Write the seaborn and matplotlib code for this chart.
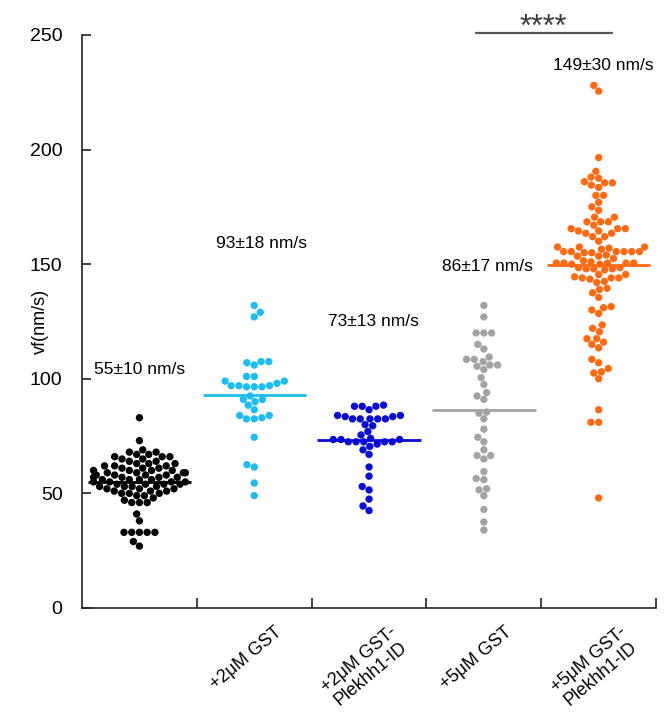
import numpy as np
import pandas as pd
import matplotlib
matplotlib.use("Agg")
import matplotlib.pyplot as plt
import matplotlib.transforms as mtransforms
import seaborn as sns

sns.set_theme(style="ticks")
plt.rcParams["font.family"] = ["Liberation Sans", "DejaVu Sans"]
plt.rcParams.update({"text.color": "black", "axes.labelcolor": "black",
                     "xtick.labelcolor": "black", "ytick.labelcolor": "black"})

# categories and their labels
groups = ["ctrl", "2GST", "2PLK", "5GST", "5PLK"]
tick_labels = ["", "+2μM GST", "+2μM GST-\nPlekhh1-ID", "+5μM GST", "+5μM GST-\nPlekhh1-ID"]
colors = ["#000000", "#1CBDF2", "#0A0AD6", "#A3A3A3", "#FF6A13"]
mean_labels = ["55±10 nm/s", "93±18 nm/s", "73±13 nm/s", "86±17 nm/s", "149±30 nm/s"]

# vf values (nm/s)
vf_ctrl = [83, 73, 69, 68, 68, 67, 67, 66, 66, 66, 65, 65, 64, 64, 63, 63, 63,
           62, 62, 62, 61, 61, 61, 60, 60, 60, 60, 59, 59, 59, 59, 58, 58, 58, 58,
           57, 57, 57, 57, 56, 56, 56, 56, 55, 55, 55, 55, 54, 54, 54, 54,
           53, 53, 53, 53, 52, 52, 52, 51, 51, 51, 50, 50, 50, 49, 49, 48, 47,
           46, 46, 46, 41, 38, 33, 33, 33, 33, 33, 29, 27]
vf_2gst = [132, 129, 127, 107.5, 106, 107, 107.5, 101, 101, 99, 98, 99,
           97, 96.5, 96.5, 96.5, 97, 97, 92.5, 91, 88.5, 90, 91,
           86.5, 84, 82.5, 82.5, 83, 84, 74.5, 61.5, 62.5, 54.5, 49]
vf_2plk = [88.5, 88, 88, 88, 86.5, 83.5, 84, 83.5, 82.5, 82.5, 82.5, 84, 82.5, 82.5,
           80, 79.5, 77, 75.5, 73.5, 72.5, 72.5, 74, 73.5, 72.5, 72.5, 72.5, 73.5,
           70.5, 71.5, 69, 67, 61.5, 57.5, 51.5, 53, 47.5, 42.5, 44.5]
vf_5gst = [132, 127, 120, 120, 120, 115, 113, 108.5, 107.5, 106, 104, 105.5, 106,
           108.5, 109.5, 100.5, 97.5, 94, 92.5, 91, 85, 82.5, 85.5, 78, 74.5, 72.5,
           69, 66.5, 66.5, 65, 59.5, 56.5, 56, 52, 51.5, 49, 43, 37.5, 34]
vf_5plk = [228, 225.5, 196.5, 190.5,
           187.5, 185.5, 184.5, 183.5, 185.5, 186, 188,
           180, 180, 177, 173.5, 175, 170.5, 170.5, 168.5, 168.5, 168.5, 167,
           165.5, 163.5, 165.5, 163.5, 164.5, 165.5, 162, 162, 164.5, 160,
           157.5, 155.5, 157.5, 155.5, 155.5, 153.5, 155, 152.5, 157.5, 155.5,
           155.5, 155.5, 153.5, 156.5, 154, 157, 155,
           151, 150.5, 150.5, 150, 150.5, 150.5, 150, 150.5, 151.5,
           148, 147.5, 148.5, 148, 148,
           144, 143.5, 142, 145.5, 144.5, 144, 145.5, 142.5, 144, 148.5,
           139, 137.5, 139.5, 135.5, 131.5, 128.5, 130, 131,
           120.5, 122, 123.5, 117.5, 116, 117.5, 115, 113.5, 108.5,
           104.5, 102.5, 100, 103, 107, 86.5, 81, 81, 48]
values = [vf_ctrl, vf_2gst, vf_2plk, vf_5gst, vf_5plk]

df = pd.concat([pd.DataFrame({"group": g, "vf": v}) for g, v in zip(groups, values)],
               ignore_index=True)

fig = plt.figure(figsize=(6.67, 7.14), dpi=100)
ax = fig.add_axes([0.123, 0.1485, 0.8606, 0.8025])

sns.swarmplot(data=df, x="group", y="vf", hue="group", order=groups, hue_order=groups,
              palette=colors, size=5.3, linewidth=0, legend=False, ax=ax, zorder=2)

# mean lines
for i, v in enumerate(values):
    ax.hlines(np.mean(v), i - 0.45, i + 0.45, colors=colors[i], lw=2, zorder=3)

# mean ± sd labels
label_pos = [(0, 104), (1.06, 159), (2.04, 125), (3.03, 149), (4.04, 236.5)]
for (x, y), txt in zip(label_pos, mean_labels):
    ax.text(x, y, txt, ha="center", va="center", fontsize=12.5)

# significance bar between the 5 µM groups
ax.plot([2.93, 4.12], [251, 251], color="#555555", lw=1.6, clip_on=False)
ax.text(3.52, 249.5, "****", ha="center", va="baseline", fontsize=22, color="#3a3a3a")

ax.set_xlim(-0.5, 4.5)
ax.set_ylim(0, 250)
ax.set_yticks([0, 50, 100, 150, 200, 250])
ax.set_xlabel("")
ax.set_ylabel("vf(nm/s)", fontsize=13)
ax.yaxis.set_label_coords(-0.057, 0.5)

sns.despine(ax=ax)
for side in ["left", "bottom"]:
    ax.spines[side].set_linewidth(1.2)
    ax.spines[side].set_color("#222222")

ax.set_xticks(range(len(groups)))
ax.set_xticklabels(tick_labels, rotation=40, ha="right", va="top",
                   rotation_mode="anchor", multialignment="center",
                   fontsize=13, linespacing=1.1)
ax.tick_params(axis="x", which="major", length=0, pad=11)
ax.set_xticks(np.arange(0.5, len(groups), 1), minor=True)
ax.tick_params(axis="x", which="minor", direction="in", length=7, width=1.2, color="#222222")
ax.tick_params(axis="y", direction="in", length=6.5, width=1.2, color="#222222",
               labelsize=14, pad=14)
offset = mtransforms.ScaledTranslation(0.2, 0, fig.dpi_scale_trans)
for lab in ax.get_xticklabels():
    lab.set_transform(lab.get_transform() + offset)

fig.savefig("out.png", dpi=100)
